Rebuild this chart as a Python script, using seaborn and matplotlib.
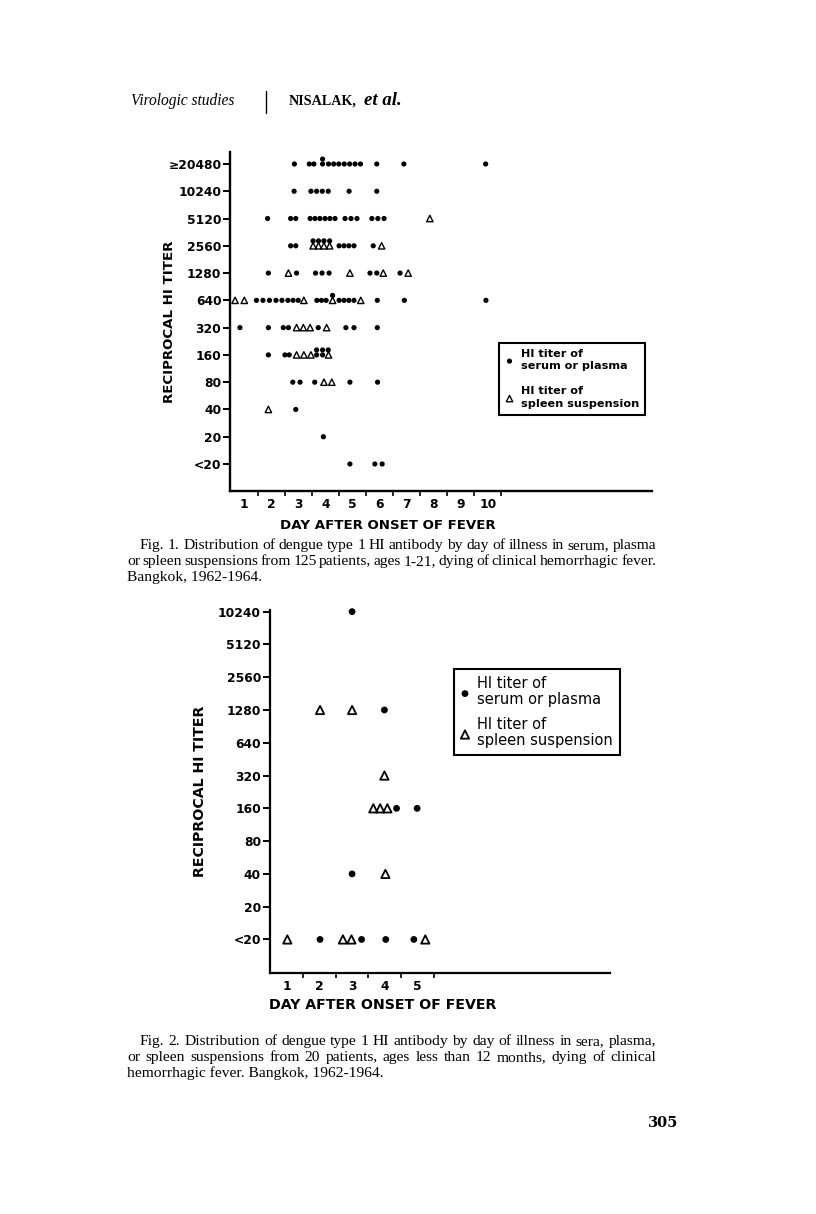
import matplotlib
matplotlib.use("Agg")
import matplotlib.pyplot as plt
from matplotlib.lines import Line2D
import numpy as np
import pandas as pd
import seaborn as sns

# ---- Fig. 1: day position of each mark, grouped by titer row ----
f1_titers = ["<20", "20", "40", "80", "160", "320", "640", "1280", "2560", "5120", "10240", "≥20480"]
f1_days = list(range(1, 11))
f1_serum = {
    "≥20480": [2.86, 3.41, 3.58, 3.90, 4.12, 4.31, 4.50, 4.70, 4.90, 5.10, 5.30, 5.90, 6.90, 9.92],
    "10240": [2.85, 3.47, 3.68, 3.89, 4.11, 4.88, 5.90],
    "5120": [1.87, 2.72, 2.91, 3.44, 3.62, 3.80, 3.99, 4.17, 4.36, 4.73, 4.95, 5.17, 5.72, 5.94, 6.17],
    "2560": [2.72, 2.91, 4.51, 4.69, 4.87, 5.06, 5.77],
    "1280": [1.90, 2.94, 3.64, 3.88, 4.14, 5.65, 5.90, 6.76],
    "640": [1.46, 1.70, 1.94, 2.18, 2.40, 2.62, 2.81, 3.00, 3.69, 3.86, 4.03,
            4.51, 4.69, 4.87, 5.06, 5.92, 6.92, 9.93],
    "320": [0.85, 1.90, 2.45, 2.64, 3.74, 4.76, 5.06, 5.92],
    "160": [1.90, 2.51, 2.67, 3.68, 3.90],
    "80": [2.80, 3.07, 3.61, 4.91, 5.93],
    "40": [2.91],
    "20": [3.93],
    "<20": [4.91, 5.83, 6.10],
}
# dots printed just above another mark where the row was crowded
f1_serum_raised = {
    "≥20480": [3.90],
    "2560": [3.55, 3.75, 3.95, 4.16],
    "640": [4.27],
    "160": [3.68, 3.90, 4.11],
}
f1_spleen = {
    "5120": [7.86],
    "2560": [3.55, 3.75, 3.95, 4.16, 6.08],
    "1280": [2.64, 4.91, 6.14, 7.06],
    "640": [0.67, 1.01, 3.21, 4.27, 5.31],
    "320": [2.94, 3.19, 3.44, 4.05],
    "160": [2.94, 3.21, 3.47, 4.12],
    "80": [3.95, 4.24],
    "40": [1.90],
}

# ---- Fig. 2 ----
f2_titers = ["<20", "20", "40", "80", "160", "320", "640", "1280", "2560", "5120", "10240"]
f2_days = list(range(1, 6))
f2_serum = {
    "10240": [3.00],
    "1280": [3.99],
    "160": [4.36, 4.99],
    "40": [3.00],
    "<20": [2.02, 3.29, 4.03, 4.89],
}
f2_spleen = {
    "1280": [2.02, 3.00],
    "320": [3.99],
    "160": [3.65, 3.86, 4.08],
    "40": [4.02],
    "<20": [1.02, 2.72, 2.98, 5.24],
}

LEG_SERUM = "HI titer of\nserum or plasma"
LEG_SPLEEN = "HI titer of\nspleen suspension"


def to_frame(titers, serum, spleen, raised=None, lift=0.18):
    rows = []
    for t, days in serum.items():
        rows += [(d, titers.index(t), "serum") for d in days]
    for t, days in (raised or {}).items():
        rows += [(d, titers.index(t) + lift, "serum") for d in days]
    for t, days in spleen.items():
        rows += [(d, titers.index(t), "spleen") for d in days]
    return pd.DataFrame(rows, columns=["day", "row", "kind"])


sns.set_style("white", {"axes.edgecolor": "black", "text.color": "black",
                        "xtick.color": "black", "ytick.color": "black",
                        "axes.labelcolor": "black", "xtick.bottom": True, "ytick.left": True})
plt.rcParams["font.family"] = ["DejaVu Sans"]

W, H = 816, 1214
fig = plt.figure(figsize=(W / 100, H / 100), dpi=100)
fig.patch.set_facecolor("white")


def axes_px(left, top, right, bottom):
    return fig.add_axes([left / W, 1 - bottom / H, (right - left) / W, (bottom - top) / H])


def panel(ax, df, titers, days, xlim, ylim, dot_s, tri_s, tri_lw, tick_fs, lab_fs,
          leg, ylab_x, xlab_xy, spine_w):
    sns.scatterplot(data=df[df.kind == "serum"], x="day", y="row", marker="o", s=dot_s,
                    color="black", edgecolor="none", linewidth=0, ax=ax, label=LEG_SERUM,
                    clip_on=False, zorder=3)
    sns.scatterplot(data=df[df.kind == "spleen"], x="day", y="row", marker="^", s=tri_s,
                    facecolor="none", edgecolor="black", linewidth=tri_lw, ax=ax, label=LEG_SPLEEN,
                    clip_on=False, zorder=3)
    ax.set_xlim(*xlim)
    ax.set_ylim(*ylim)
    ax.set_facecolor("none")
    for s in ["top", "right"]:
        ax.spines[s].set_visible(False)
    for s in ["left", "bottom"]:
        ax.spines[s].set_linewidth(spine_w)

    ax.set_yticks(range(len(titers)))
    ax.set_yticklabels(titers, fontsize=tick_fs, fontweight="bold")
    ax.tick_params(axis="y", length=5, width=1.4, pad=1.2)
    ax.set_xticks(days)
    ax.set_xticklabels([str(d) for d in days], fontsize=tick_fs, fontweight="bold")
    ax.set_xticks(np.arange(1.5, days[-1] + 1, 1), minor=True)
    ax.tick_params(axis="x", which="major", length=0, pad=5.2)
    ax.tick_params(axis="x", which="minor", length=3.5, width=1.2, bottom=True)

    ax.set_ylabel("RECIPROCAL HI TITER", fontsize=lab_fs, fontweight="bold")
    ax.yaxis.set_label_coords(ylab_x, 0.5)
    ax.set_xlabel("DAY AFTER ONSET OF FEVER", fontsize=lab_fs, fontweight="bold")
    ax.xaxis.set_label_coords(*xlab_xy)

    lg = ax.legend(loc="upper left", bbox_to_anchor=leg["anchor"], borderaxespad=0,
                   frameon=True, fancybox=False, edgecolor="black", framealpha=1,
                   prop={"size": leg["fs"], "weight": leg["weight"]}, handlelength=leg["hl"],
                   handletextpad=leg["htp"], labelspacing=leg["ls"], borderpad=leg["bp"])
    lg.get_frame().set_linewidth(1.5)
    for t in lg.get_texts():
        t.set_linespacing(leg["lsp"])


# Fig. 1
ax1 = axes_px(230, 151.7, 652, 491)
df1 = to_frame(f1_titers, f1_serum, f1_spleen, f1_serum_raised)
panel(ax1, df1, f1_titers, f1_days, xlim=(0.483, 16.06), ylim=(-0.99, 11.45),
      dot_s=14, tri_s=21, tri_lw=1.0, tick_fs=8.8, lab_fs=9.6,
      leg=dict(anchor=(0.637, 0.436), fs=8.1, weight="bold", hl=0.9, htp=0.6, ls=1.3,
               bp=0.5, lsp=1.35),
      ylab_x=-0.128, xlab_xy=(0.374, -0.082), spine_w=1.7)

# Fig. 2
ax2 = axes_px(269.5, 610, 610, 972.7)
df2 = to_frame(f2_titers, f2_serum, f2_spleen)
panel(ax2, df2, f2_titers, f2_days, xlim=(0.474, 10.89), ylim=(-1.014, 10.05),
      dot_s=24, tri_s=36, tri_lw=1.3, tick_fs=8.8, lab_fs=10.2,
      leg=dict(anchor=(0.542, 0.837), fs=10.5, weight="normal", hl=0.6, htp=0.55, ls=0.65,
               bp=0.45, lsp=1.12),
      ylab_x=-0.184, xlab_xy=(0.333, -0.07), spine_w=1.6)

# ---- page text ----
serif = ["Liberation Serif", "DejaVu Serif"]
renderer = fig.canvas.get_renderer()


def text_w(s, fs, **kw):
    t = fig.text(0, 0, s, family=serif, fontsize=fs, **kw)
    w = t.get_window_extent(renderer).width
    t.remove()
    return w


def justified(line, x0, x1, y, fs):
    words = line.split(" ")
    widths = [text_w(w, fs) for w in words]
    gap = (x1 - x0 - sum(widths)) / (len(words) - 1)
    x = x0
    for w, wd in zip(words, widths):
        fig.text(x / W, 1 - y / H, w, family=serif, fontsize=fs, va="baseline")
        x += wd + gap


def plain(line, x0, y, fs, family=serif, **kw):
    fig.text(x0 / W, 1 - y / H, line, family=family, fontsize=fs, va="baseline", **kw)


cap1 = ["Fig. 1. Distribution of dengue type 1 HI antibody by day of illness in serum, plasma",
        "or spleen suspensions from 125 patients, ages 1-21, dying of clinical hemorrhagic fever.",
        "Bangkok, 1962-1964."]
cap2 = ["Fig. 2. Distribution of dengue type 1 HI antibody by day of illness in sera, plasma,",
        "or spleen suspensions from 20 patients, ages less than 12 months, dying of clinical",
        "hemorrhagic fever. Bangkok, 1962-1964."]

left, indent, right = 127, 140, 656
cap_fs = 10 * (right - left) / text_w(cap1[1], 10) * 1.03
for lines, y0 in [(cap1, 549), (cap2, 1045)]:
    justified(lines[0], indent, right, y0, cap_fs)
    justified(lines[1], left, right, y0 + 16, cap_fs)
    plain(lines[2], left, y0 + 32, cap_fs)

# running head
plain("Virologic studies", 131, 105, 11.2, style="italic")
fig.add_artist(Line2D([266 / W] * 2, [1 - 91 / H, 1 - 113 / H], color="black", lw=1.0))
plain("NISALAK,", 289, 105, 10.2, weight="bold")
plain("et al.", 364, 105, 13.5, weight="bold", style="italic")

# page number
fig.text(678 / W, 1 - 1127 / H, "305", family=["DejaVu Serif"], fontsize=10.5, weight="bold",
         ha="right", va="baseline")

fig.savefig("out.png", dpi=100, facecolor="white")
